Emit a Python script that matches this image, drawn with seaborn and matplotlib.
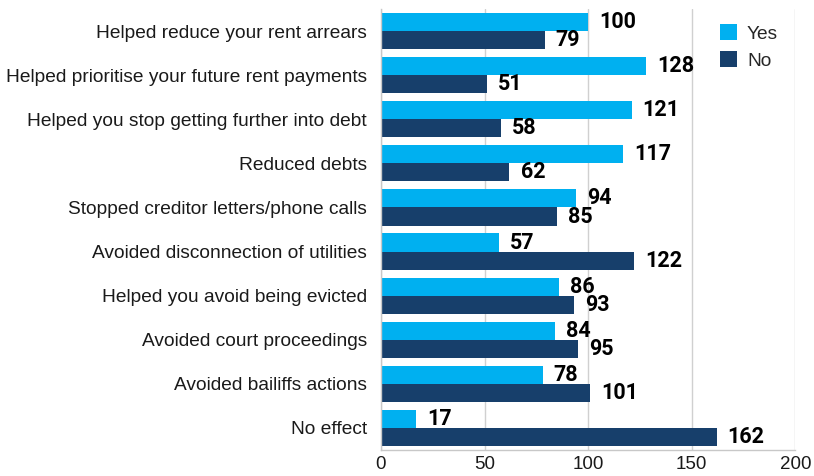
import matplotlib
matplotlib.use("Agg")
import matplotlib.pyplot as plt
import seaborn as sns
import pandas as pd

categories = [
    "Helped reduce your rent arrears",
    "Helped prioritise your future rent payments",
    "Helped you stop getting further into debt",
    "Reduced debts",
    "Stopped creditor letters/phone calls",
    "Avoided disconnection of utilities",
    "Helped you avoid being evicted",
    "Avoided court proceedings",
    "Avoided bailiffs actions",
    "No effect",
]
yes_values = [100, 128, 121, 117, 94, 57, 86, 84, 78, 17]
no_values = [79, 51, 58, 62, 85, 122, 93, 95, 101, 162]
series = ["Yes", "No"]
colors = ["#00B0F0", "#173F6B"]

df = pd.DataFrame({
    "category": categories * 2,
    "value": yes_values + no_values,
    "series": ["Yes"] * len(categories) + ["No"] * len(categories),
})

sns.set_style("white")
plt.rcParams["font.family"] = ["Liberation Sans", "DejaVu Sans"]

fig = plt.figure(figsize=(8.14, 4.76), dpi=100)
ax = fig.add_axes([0.468, 0.0546, 0.509, 0.9264])

sns.barplot(data=df, y="category", x="value", hue="series", hue_order=series,
            palette=colors, orient="h", width=0.82, ax=ax, saturation=1,
            edgecolor="none", linewidth=0)

for container in ax.containers:
    ax.bar_label(container, padding=8, fontsize=15.5, fontweight="bold",
                 color="black", family=["Roboto", "DejaVu Sans"])

ax.set_xlim(0, 200)
ax.set_xticks([0, 50, 100, 150, 200])
ax.set_ylim(len(categories) - 0.5, -0.5)
ax.xaxis.grid(True, color="#D0D0D0", linewidth=1)
ax.set_axisbelow(True)
ax.set_xlabel("")
ax.set_ylabel("")
ax.tick_params(axis="y", labelsize=13.8, length=0, pad=10, colors="#1a1a1a")
ax.tick_params(axis="x", labelsize=13.5, length=0, pad=4, colors="#1a1a1a")
for s in ["top", "right"]:
    ax.spines[s].set_visible(False)
for s in ["left", "bottom"]:
    ax.spines[s].set_color("#C8C8C8")
    ax.spines[s].set_linewidth(1)

leg = ax.legend(loc="upper right", bbox_to_anchor=(1.0, 1.005), frameon=False,
                fontsize=13.8, handlelength=0.9, handleheight=0.9, handletextpad=0.5,
                labelspacing=0.45)

fig.savefig("out.png", dpi=100)
